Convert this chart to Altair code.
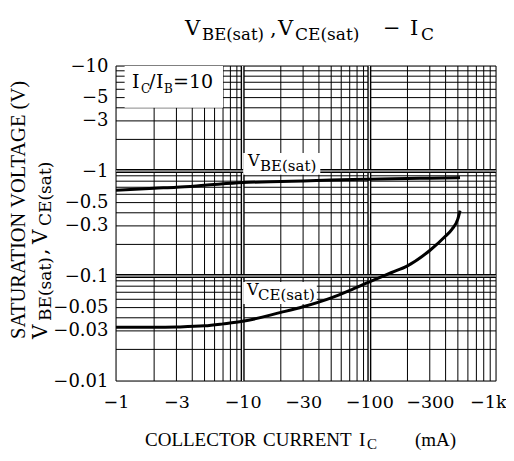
import altair as alt
import pandas as pd

# ---- data ----
ic_be = [1, 2, 3, 5, 10, 20, 30, 50, 100, 200, 300, 520]
vbe = [0.655, 0.685, 0.70, 0.73, 0.775, 0.795, 0.805, 0.82, 0.835, 0.848, 0.855, 0.865]
ic_ce = [1, 2, 3, 5, 7, 10, 20, 30, 50, 70, 100, 150, 200, 300, 400, 450, 500, 520]
vce = [0.0325, 0.0325, 0.0327, 0.0335, 0.035, 0.037, 0.045, 0.051, 0.062, 0.073,
       0.088, 0.108, 0.125, 0.175, 0.24, 0.28, 0.35, 0.42]
x_ticks = [1, 3, 10, 30, 100, 300, 1000]
y_ticks = [0.01, 0.03, 0.05, 0.1, 0.3, 0.5, 1, 3, 5, 10]
x_grid = [m * 10 ** k for k in range(3) for m in range(1, 10)] + [1000]
y_grid = [m * 10.0 ** k for k in range(-2, 1) for m in range(1, 10)] + [10]
x_decades = [10, 100]
y_decades = [0.1, 1]

SERIF = "DejaVu Serif"
TSERIF = "Liberation Serif"

xs = alt.Scale(type="log", domain=[1, 1000], nice=False)
ys = alt.Scale(type="log", domain=[0.01, 10], nice=False)

axis_x = alt.Axis(values=x_ticks, labelExpr="datum.value >= 1000 ? '\u22121k' : '\u2212' + datum.label",
                  format="~g", title=None, grid=False, ticks=False, domain=False,
                  labelFont=SERIF, labelFontSize=17.5, labelColor="black", labelPadding=12,
                  labelFlush=False, labelOverlap=False,
                  labelAlign={"condition": {"test": "datum.value >= 1000", "value": "right"},
                              "value": "center"},
                  labelOffset={"condition": {"test": "datum.value >= 1000", "value": 10},
                               "value": 0})
axis_y = alt.Axis(values=y_ticks, labelExpr="'\u2212' + datum.label", format="~g", title=None,
                  grid=False, ticks=False, domain=False, labelFont=SERIF, labelFontSize=18,
                  labelColor="black", labelPadding=8, labelFlush=False, labelOverlap=False)


def X(f):
    return alt.X(f, scale=xs, axis=axis_x)


def Y(f):
    return alt.Y(f, scale=ys, axis=axis_y)


one = pd.DataFrame({"a": [0]})

xg = alt.Chart(pd.DataFrame({"v": x_grid})).mark_rule(color="black", strokeWidth=1).encode(x=X("v:Q"))
yg = alt.Chart(pd.DataFrame({"v": y_grid})).mark_rule(color="black", strokeWidth=1).encode(y=Y("v:Q"))
xd = alt.Chart(pd.DataFrame({"v": x_decades})).mark_rule(color="black", strokeWidth=4).encode(x=X("v:Q"))
xdw = alt.Chart(pd.DataFrame({"v": x_decades})).mark_rule(color="white", strokeWidth=1.2).encode(x=X("v:Q"))
yd = alt.Chart(pd.DataFrame({"v": y_decades})).mark_rule(color="black", strokeWidth=4).encode(y=Y("v:Q"))
ydw = alt.Chart(pd.DataFrame({"v": y_decades})).mark_rule(color="white", strokeWidth=1.2).encode(y=Y("v:Q"))

# white boxes behind annotations
boxes = pd.DataFrame({
    "x1": [1.17, 10.1, 10.1],
    "x2": [7, 41, 38.5],
    "y1": [4, 0.92, 0.054],
    "y2": [10, 1.48, 0.0877],
})
box_layer = alt.Chart(boxes).mark_rect(fill="white").encode(
    x=X("x1:Q"), x2="x2:Q", y=Y("y1:Q"), y2="y2:Q")

be_line = alt.Chart(pd.DataFrame({"ic": ic_be, "v": vbe})).mark_line(
    color="black", strokeWidth=3, interpolate="monotone").encode(x=X("ic:Q"), y=Y("v:Q"))
ce_line = alt.Chart(pd.DataFrame({"ic": ic_ce, "v": vce})).mark_line(
    color="black", strokeWidth=3, interpolate="monotone").encode(x=X("ic:Q"), y=Y("v:Q"))


def txt(s, x, y, size, font=SERIF, angle=0):
    return alt.Chart(one).mark_text(
        text=s, align="left", baseline="alphabetic", fontSize=size, font=font,
        angle=angle, color="black").encode(x=alt.value(x), y=alt.value(y))


texts = [
    # title
    txt("V", 69, -31, 21), txt("BE(sat)", 86, -26, 16.5),
    txt(",", 154, -31, 21), txt("V", 162, -31, 21), txt("CE(sat)", 179, -26, 17),
    txt("\u2212", 267, -31, 21), txt("I", 294, -31, 21), txt("C", 305, -26, 17),
    # condition box
    txt("I", 16, 22, 19), txt("C", 25, 27, 12), txt("/", 33, 22, 19), txt("I", 40, 22, 19),
    txt("B", 48, 27, 12), txt("=10", 57, 22, 19),
    # curve labels
    txt("V", 132, 100, 16), txt("BE(sat)", 144, 105, 15),
    txt("V", 131, 229, 16), txt("CE(sat)", 142, 234, 15),
    # x title
    txt("COLLECTOR", 29, 380, 19, TSERIF), txt("CURRENT", 147, 380, 19, TSERIF),
    txt("I", 243, 380, 19, TSERIF), txt("C", 251, 383, 15, TSERIF),
    txt("(mA)", 299, 380, 19, TSERIF),
    # y title
    txt("SATURATION  VOLTAGE  (V)", -91, 273, 20.5, TSERIF, 270),
    txt("V", -69, 273, 20, SERIF, 270), txt("BE(sat)", -65, 255, 17, SERIF, 270),
    txt(",", -69, 189, 20, SERIF, 270), txt("V", -69, 178, 20, SERIF, 270),
    txt("CE(sat)", -65, 160, 17, SERIF, 270),
]

chart = alt.layer(xg, yg, xd, xdw, yd, ydw, box_layer, be_line, ce_line, *texts).properties(
    width=380, height=315, autosize="none",
    padding={"left": 108, "top": 58, "right": 10, "bottom": 72},
).configure_view(stroke="black", strokeWidth=2.5).configure(background="white")

chart.save("out.html", embed_options={"renderer": "svg", "actions": False})
